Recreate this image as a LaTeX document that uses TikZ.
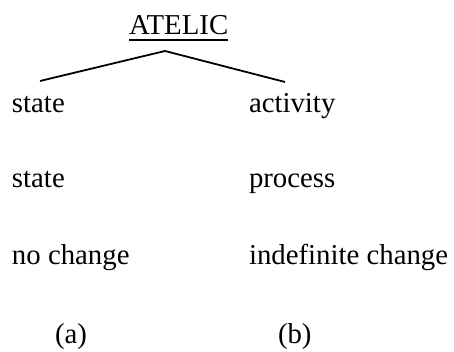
\documentclass[tikz,border=0pt]{standalone}
\usepackage{fontspec}
\setmainfont{Liberation Serif}
\usetikzlibrary{calc}
\begin{document}
\begin{tikzpicture}[x=1pt,y=1pt,
  lbl/.style={anchor=base west,inner sep=0pt,outer sep=0pt,
    font=\fontsize{28.8}{33}\selectfont},
  branch/.style={line width=1.8pt},
  uline/.style={line width=1.6pt}]
\useasboundingbox (0,0) rectangle (454,352);

% heading
\node[lbl] (title) at (129,317) {ATELIC};
\draw[uline] ($(title.base west)+(0,-5)$) -- ($(title.base east)+(0,-5)$);

% branching lines
\coordinate (apex) at (165,301);
\coordinate (lend) at (40,271);
\coordinate (rend) at (285,270);
\draw[branch] (lend) -- (apex) -- (rend);

% column (a)
\node[lbl] (s1) at (12,239) {state};
\node[lbl] (s2) at (12,164) {state};
\node[lbl] (nc) at (12,87) {no change};
\node[lbl] (la) at (55,8) {(a)};

% column (b)
\node[lbl] (act) at (249,239) {activity};
\node[lbl] (proc) at (249,164) {process};
\node[lbl] (ic) at (249,87) {indefinite change};
\node[lbl] (lb) at (278,8) {(b)};
\end{tikzpicture}
\end{document}
